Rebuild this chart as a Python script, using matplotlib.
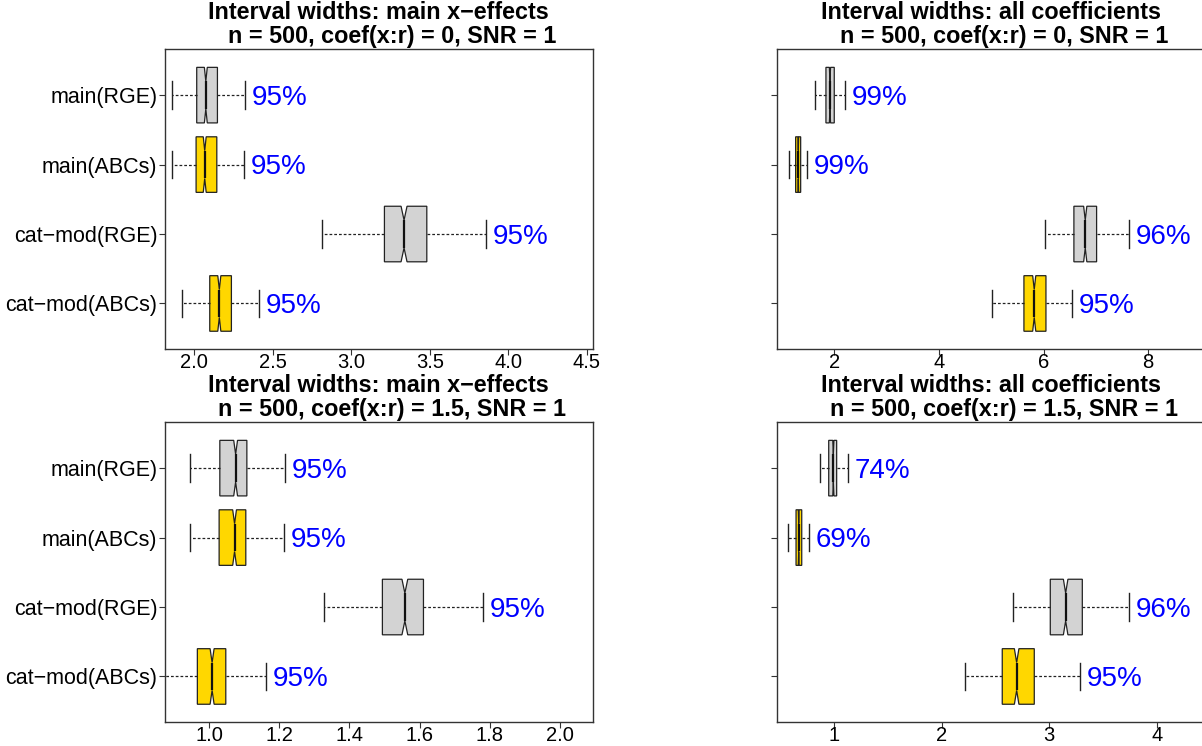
import matplotlib
matplotlib.use("Agg")
import matplotlib.pyplot as plt
import numpy as np

plt.rcParams['font.family'] = ['Liberation Sans', 'DejaVu Sans']

# ---------------- data ----------------
categories = ["main(RGE)", "main(ABCs)", "cat\u2212mod(RGE)", "cat\u2212mod(ABCs)"]
box_colors = ["#D3D3D3", "#FFD700", "#D3D3D3", "#FFD700"]
n_sim = 500

# top-left: main x-effects, coef(x:r) = 0
tl_whislo = [1.860, 1.856, 2.812, 1.922]
tl_q1 = [2.015, 2.011, 3.211, 2.098]
tl_med = [2.073, 2.066, 3.336, 2.159]
tl_q3 = [2.147, 2.143, 3.481, 2.236]
tl_whishi = [2.325, 2.317, 3.858, 2.414]
tl_cov = ["95%", "95%", "95%", "95%"]

# top-right: all coefficients, coef(x:r) = 0
tr_whislo = [1.631, 1.140, 6.026, 5.008]
tr_q1 = [1.841, 1.262, 6.580, 5.625]
tr_med = [1.918, 1.312, 6.797, 5.822]
tr_q3 = [2.000, 1.358, 7.014, 6.046]
tr_whishi = [2.210, 1.473, 7.637, 6.548]
tr_cov = ["99%", "99%", "96%", "95%"]

# bottom-left: main x-effects, coef(x:r) = 1.5
bl_whislo = [0.947, 0.945, 1.329, 0.850]
bl_q1 = [1.031, 1.029, 1.494, 0.967]
bl_med = [1.076, 1.073, 1.558, 1.009]
bl_q3 = [1.108, 1.105, 1.611, 1.048]
bl_whishi = [1.217, 1.214, 1.781, 1.163]
bl_cov = ["95%", "95%", "95%", "95%"]

# bottom-right: all coefficients, coef(x:r) = 1.5
br_whislo = [0.870, 0.572, 2.666, 2.213]
br_q1 = [0.948, 0.644, 3.010, 2.563]
br_med = [0.991, 0.669, 3.153, 2.697]
br_q3 = [1.022, 0.697, 3.308, 2.861]
br_whishi = [1.127, 0.767, 3.739, 3.286]
br_cov = ["74%", "69%", "96%", "95%"]

titles_1 = ["Interval widths: main x\u2212effects", "Interval widths: all coefficients",
            "Interval widths: main x\u2212effects", "Interval widths: all coefficients"]
titles_2 = ["n = 500, coef(x:r) = 0, SNR = 1", "n = 500, coef(x:r) = 0, SNR = 1",
            "n = 500, coef(x:r) = 1.5, SNR = 1", "n = 500, coef(x:r) = 1.5, SNR = 1"]

tl_ticks = [2.0, 2.5, 3.0, 3.5, 4.0, 4.5]
tr_ticks = [2, 4, 6, 8]
bl_ticks = [1.0, 1.2, 1.4, 1.6, 1.8, 2.0]
br_ticks = [1, 2, 3, 4]
tl_ticklabels = ["2.0", "2.5", "3.0", "3.5", "4.0", "4.5"]
tr_ticklabels = ["2", "4", "6", "8"]
bl_ticklabels = ["1.0", "1.2", "1.4", "1.6", "1.8", "2.0"]
br_ticklabels = ["1", "2", "3", "4"]

xlims = [(1.811, 4.538), (0.90, 9.08), (0.874, 2.093), (0.464, 4.447)]

# ---------------- figure ----------------
W, H = 1202, 746
fig = plt.figure(figsize=(W / 100, H / 100), dpi=100)

def px_axes(left, top, width, height):
    return fig.add_axes([left / W, 1 - (top + height) / H, width / W, height / H])

ax_w, ax_h = 428, 300
axes = [px_axes(164.7, 49.3, ax_w, ax_h), px_axes(776.7, 49.3, ax_w, ax_h),
        px_axes(164.7, 422.3, ax_w, ax_h), px_axes(776.7, 422.3, ax_w, ax_h)]

panels = [
    (tl_whislo, tl_q1, tl_med, tl_q3, tl_whishi, tl_cov, tl_ticks, tl_ticklabels, True),
    (tr_whislo, tr_q1, tr_med, tr_q3, tr_whishi, tr_cov, tr_ticks, tr_ticklabels, False),
    (bl_whislo, bl_q1, bl_med, bl_q3, bl_whishi, bl_cov, bl_ticks, bl_ticklabels, True),
    (br_whislo, br_q1, br_med, br_q3, br_whishi, br_cov, br_ticks, br_ticklabels, False),
]

positions = [1, 2, 3, 4]
for i, (ax, p) in enumerate(zip(axes, panels)):
    wlo, q1, med, q3, whi, cov, ticks, ticklabels, show_ylabels = p
    stats = []
    for j in range(len(categories)):
        half = 1.58 * (q3[j] - q1[j]) / np.sqrt(n_sim)
        stats.append(dict(whislo=wlo[j], q1=q1[j], med=med[j], q3=q3[j], whishi=whi[j],
                          cilo=med[j] - half, cihi=med[j] + half, fliers=[],
                          label=categories[j]))
    bp = ax.bxp(stats, positions=positions, widths=0.8, orientation='horizontal',
                shownotches=True, showfliers=False, patch_artist=True,
                boxprops=dict(edgecolor='#222222', linewidth=0.9),
                whiskerprops=dict(color='#222222', linewidth=0.9, linestyle=(0, (2.2, 1.6))),
                capprops=dict(color='#222222', linewidth=1.0),
                medianprops=dict(color='#111111', linewidth=1.6))
    for patch, c in zip(bp['boxes'], box_colors):
        patch.set_facecolor(c)
    for j in range(len(categories)):
        ax.annotate(cov[j], xy=(whi[j], positions[j]), xytext=(4.8, -7.1),
                    textcoords='offset points', ha='left', va='baseline',
                    color='#0000FF', fontsize=20, annotation_clip=False)
    ax.set_xlim(*xlims[i])
    ax.set_ylim(4.66, 0.34)
    ax.set_xticks(ticks)
    ax.set_xticklabels(ticklabels, fontsize=14.5)
    ax.set_yticks(positions)
    if show_ylabels:
        ax.set_yticklabels(categories, fontsize=15.5)
    else:
        ax.set_yticklabels([])
    ax.tick_params(axis='x', length=4.3, width=0.8, pad=-1.6, color='#333333')
    ax.tick_params(axis='y', length=4.3, width=0.8, pad=1.0, color='#333333')
    for s in ax.spines.values():
        s.set_linewidth(1.0)
        s.set_color('#333333')
    ax.annotate(titles_1[i], xy=(0.5, 1.0), xycoords='axes fraction',
                xytext=(0, 21.5), textcoords='offset points', ha='center', va='baseline',
                fontsize=16.8, fontweight='bold')
    ax.annotate(titles_2[i], xy=(0.5, 1.0), xycoords='axes fraction',
                xytext=(9.4, 4.3), textcoords='offset points', ha='center', va='baseline',
                fontsize=16.8, fontweight='bold')

fig.savefig("out.png", dpi=100)
